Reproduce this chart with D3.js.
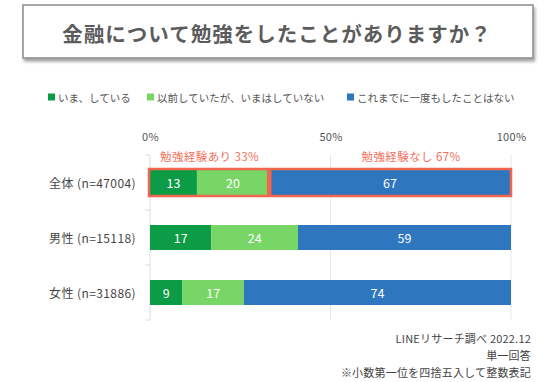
<!DOCTYPE html>
<html><head><meta charset="utf-8">
<script src="https://cdn.jsdelivr.net/npm/d3@7"></script>
<style>
html,body{margin:0;padding:0;background:#fff;}
svg text{font-family:"Noto Sans CJK JP","Noto Sans",sans-serif;}
</style></head>
<body><svg id="c" width="560" height="382"></svg>
<script>
const title = "金融について勉強をしたことがありますか？";
const categories = ["全体 (n=47004)", "男性 (n=15118)", "女性 (n=31886)"];
const seriesNames = ["いま、している", "以前していたが、いまはしていない", "これまでに一度もしたことはない"];
const nowStudying = [13, 17, 9];
const pastStudied = [20, 24, 17];
const neverStudied = [67, 59, 74];
const seriesColors = ["#0c9c46", "#78d666", "#2e76bd"];
const tickValues = [0, 50, 100];
const groupLabels = ["勉強経験あり\u00a033%", "勉強経験なし\u00a067%"];
const groupRanges = [[0, 33], [33, 100]];
const groupLabelPos = [16.5, 72.3];
const footnotes = ["LINEリサーチ調べ 2022.12", "単一回答", "※小数第一位を四捨五入して整数表記"];

const svg = d3.select("#c");
const defs = svg.append("defs");
const f = defs.append("filter").attr("id","sh").attr("x","-5%").attr("y","-20%").attr("width","115%").attr("height","160%");
f.append("feDropShadow").attr("dx",1.5).attr("dy",3).attr("stdDeviation",1.6).attr("flood-color","#000").attr("flood-opacity",0.35);

// title box
svg.append("rect").attr("x",23).attr("y",5).attr("width",510).attr("height",53)
  .attr("fill","#fff").attr("stroke","#8a8a8a").attr("stroke-width",1.5).attr("filter","url(#sh)");
svg.append("text").attr("x",277).attr("y",33).attr("text-anchor","middle").attr("dominant-baseline","central")
  .attr("font-size",20.5).attr("font-weight",700).attr("fill","#5c5c5c").attr("letter-spacing",1).text(title);

// legend
const legX = [48, 147, 347];
const leg = svg.append("g").selectAll("g").data(seriesNames).join("g")
  .attr("transform",(d,i)=>`translate(${legX[i]},97)`);
leg.append("rect").attr("x",0).attr("y",-3.5).attr("width",7).attr("height",7).attr("fill",(d,i)=>seriesColors[i]);
leg.append("text").attr("x",10).attr("y",0).attr("dominant-baseline","central").attr("font-size",10.5).attr("fill","#555").text(d=>d);

// scales
const x = d3.scaleLinear().domain([0,100]).range([150,511]);
const y = d3.scaleBand().domain(categories).range([155,320]).paddingInner(30/55).paddingOuter(15/55);

// gridlines
svg.append("g").selectAll("line").data(tickValues.slice(1)).join("line")
  .attr("x1",d=>x(d)).attr("x2",d=>x(d)).attr("y1",155).attr("y2",320)
  .attr("stroke","#e8e8e8").attr("stroke-width",1);
svg.append("line").attr("x1",x(0)).attr("x2",x(0)).attr("y1",155).attr("y2",320).attr("stroke","#dcdcdc");
const bounds = d3.range(categories.length+1).map(i=>y.range()[0]+i*y.step());
svg.append("g").selectAll("line").data(bounds).join("line")
  .attr("x1",x(0)-5).attr("x2",x(0)).attr("y1",d=>d).attr("y2",d=>d).attr("stroke","#dcdcdc");

// top axis
const ax = svg.append("g").attr("transform","translate(0,141)")
  .call(d3.axisTop(x).tickValues(tickValues).tickFormat(d=>d+"%").tickSize(0).tickPadding(0));
ax.select(".domain").remove();
ax.selectAll("text").attr("font-size",11).attr("fill","#555").attr("letter-spacing",0.3).attr("font-family",'"Noto Sans CJK JP","Noto Sans",sans-serif');

// stacked data
const rows = categories.map((c,i)=>({cat:c, s0:nowStudying[i], s1:pastStudied[i], s2:neverStudied[i]}));
const stack = d3.stack().keys(["s0","s1","s2"])(rows);

const g = svg.append("g");
stack.forEach((layer,li)=>{
  g.append("g").selectAll("rect").data(layer).join("rect")
    .attr("x",d=>x(d[0])).attr("width",d=>x(d[1])-x(d[0]))
    .attr("y",d=>y(d.data.cat)).attr("height",y.bandwidth())
    .attr("fill",seriesColors[li]);
  g.append("g").selectAll("text").data(layer).join("text")
    .attr("x",d=>(x(d[0])+x(d[1]))/2).attr("y",d=>y(d.data.cat)+y.bandwidth()/2)
    .attr("text-anchor","middle").attr("dominant-baseline","central")
    .attr("font-size",12.5).attr("fill","#fff").text(d=>d[1]-d[0]);
});

// category labels
svg.append("g").selectAll("text").data(categories).join("text")
  .attr("x",136).attr("y",d=>y(d)+y.bandwidth()/2).attr("text-anchor","end").attr("dominant-baseline","central")
  .attr("font-size",12).attr("letter-spacing",0.4).attr("fill","#444").text(d=>d);

// group highlight boxes on first bar
const c0 = categories[0];
svg.append("g").selectAll("rect").data(groupRanges).join("rect")
  .attr("x",(d,i)=>x(d[0])+(i===0?-1:1.2)).attr("width",(d,i)=>x(d[1])-x(d[0])-(i===0?0:1.2))
  .attr("y",y(c0)-1).attr("height",y.bandwidth()+2)
  .attr("fill","none").attr("stroke","#f2654f").attr("stroke-width",2.5);
svg.append("g").selectAll("text").data(groupLabels).join("text")
  .attr("x",(d,i)=>x(groupLabelPos[i])).attr("y",156).attr("text-anchor","middle").attr("dominant-baseline","central")
  .attr("font-size",11.5).attr("letter-spacing",0.4).attr("fill","#f2705c").text(d=>d);

// footnotes
svg.append("g").selectAll("text").data(footnotes).join("text")
  .attr("x",531).attr("y",(d,i)=>338+i*17).attr("text-anchor","end").attr("dominant-baseline","central")
  .attr("font-size",11).attr("letter-spacing",0.2).attr("fill","#444").text(d=>d);
</script></body></html>
